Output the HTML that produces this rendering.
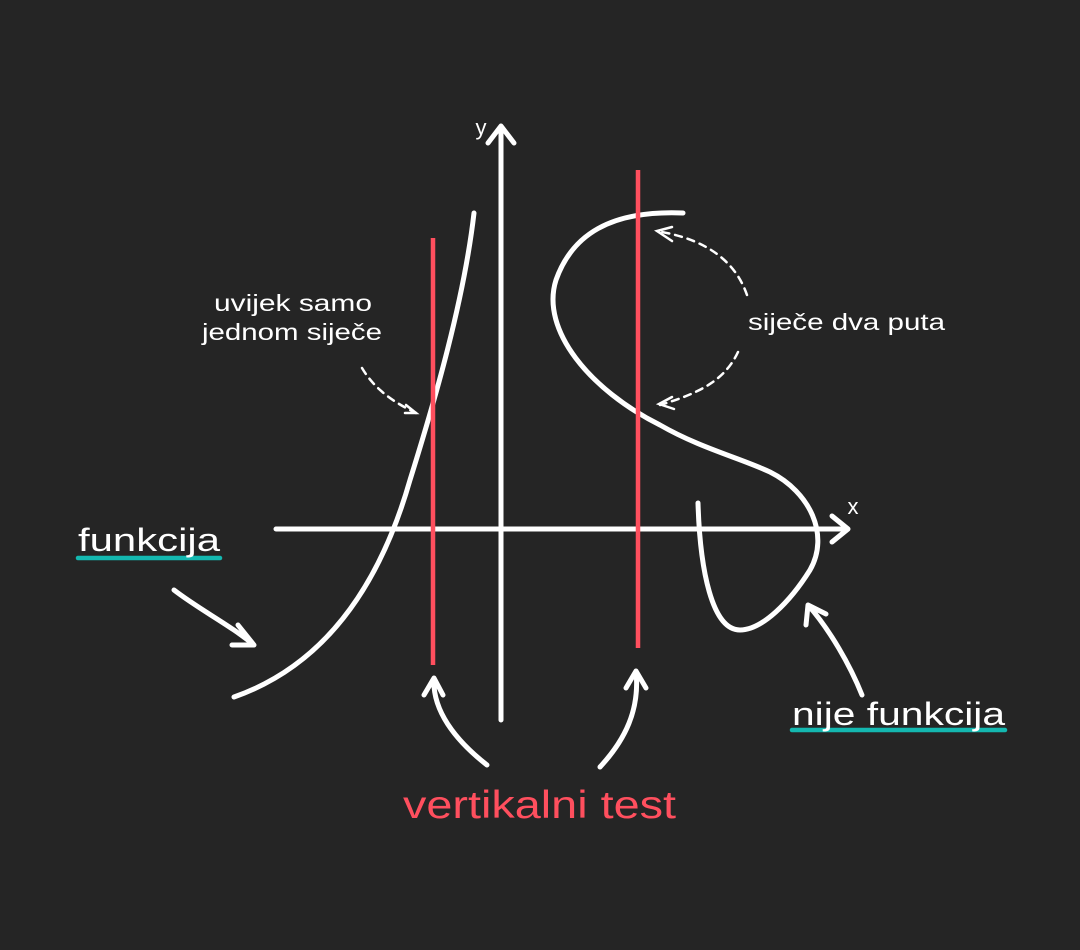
<!DOCTYPE html>
<html><head><meta charset="utf-8"><style>
html,body{margin:0;padding:0;background:#252525;}
svg{display:block}
text{font-family:"Liberation Sans","DejaVu Sans",sans-serif;}
</style></head><body>
<svg width="1080" height="950" viewBox="0 0 1080 950">
<rect width="1080" height="950" fill="#252525"/>
<g fill="none" stroke="#fff" stroke-width="5" stroke-linecap="round" stroke-linejoin="round">
<path d="M501,720 L501,126 M488,143 L501,126 L514,143"/>
<path d="M276,529 L848,529 M832,516 L848,529 L832,542"/>
<path d="M234,697 C325,665 380,585 410,480 C435,400 464,300 474,213"/>
<path d="M683,213 C610,210 572,235 556,280 C540,330 590,390 660,425 C700,448 740,458 770,472 C810,492 830,535 810,570 C790,602 762,630 740,630 C712,630 700,570 698,503"/>
<path d="M174,590 C200,610 230,625 254,645 M238,625 L254,645 L232,645"/>
<path d="M487,765 C455,740 432,710 434,678 M424,695 L434,678 L443,695"/>
<path d="M600,767 C625,740 640,710 636,671 M626,688 L636,671 L646,688"/>
<path d="M862,695 C850,665 830,630 808,605 M806,625 L808,605 L826,614"/>
</g>
<g fill="none" stroke="#fff" stroke-width="2.5" stroke-dasharray="7,6" stroke-linecap="round">
<path d="M362,368 C375,390 395,403 416,413"/>
<path d="M747,295 C735,260 705,240 662,232"/>
<path d="M738,352 C725,380 700,393 660,405"/>
</g>
<g fill="none" stroke="#fff" stroke-width="2.5" stroke-linecap="round">
<path d="M406,405 L416,413 L405,413"/>
<path d="M672,227 L657,231 L672,241"/>
<path d="M672,397 L659,404 L674,409"/>
</g>
<g stroke="#ff4f5e" stroke-width="4.5">
<line x1="433" y1="238" x2="433" y2="665"/>
<line x1="638" y1="170" x2="638" y2="648"/>
</g>
<g stroke="#14b8b0" stroke-width="4.5" stroke-linecap="round">
<line x1="78" y1="558" x2="220" y2="558"/>
<line x1="792" y1="730" x2="1005" y2="730"/>
</g>
<g fill="#fff">
<text x="481" y="135" font-size="22" text-anchor="middle">y</text>
<text x="853" y="514" font-size="22" text-anchor="middle">x</text>
<text x="214" y="311" font-size="23" textLength="158" lengthAdjust="spacingAndGlyphs">uvijek samo</text>
<text x="202" y="340" font-size="23" textLength="180" lengthAdjust="spacingAndGlyphs">jednom siječe</text>
<text x="748" y="330" font-size="23" textLength="197" lengthAdjust="spacingAndGlyphs">siječe dva puta</text>
<text x="78" y="551" font-size="32" textLength="142" lengthAdjust="spacingAndGlyphs">funkcija</text>
<text x="792" y="725" font-size="32" textLength="213" lengthAdjust="spacingAndGlyphs">nije funkcija</text>
</g>
<text x="403" y="818" font-size="39" fill="#ff4f5e" textLength="273" lengthAdjust="spacingAndGlyphs">vertikalni test</text>
</svg>
</body></html>
